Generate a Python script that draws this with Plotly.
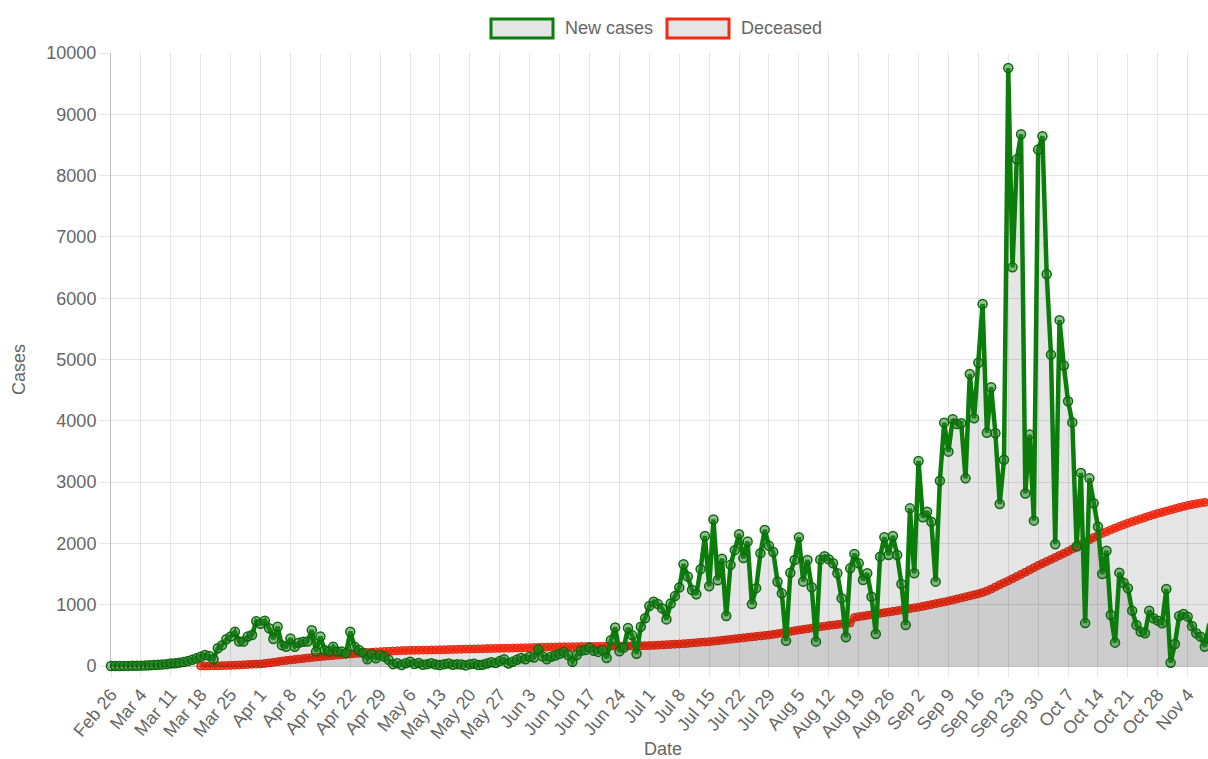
import pandas as pd
import plotly.graph_objects as go

start_date = "2020-02-26"

# Daily new cases, Feb 26 .. Nov 10
new_cases = [
    0, 0, 1, 2, 2, 4, 5, 6, 9, 12, 15, 20, 25, 30, 40, 45, 55, 65, 80, 100, 125, 150, 180, 165, 110,
    290, 340, 435, 480, 560, 400, 400, 480, 505, 730, 690, 740, 615, 440, 640, 340, 315, 450, 315, 380,
    395, 400, 585, 235, 480, 260, 235, 315, 235, 235, 210, 560, 315, 260, 215, 110, 195, 125, 180, 150,
    100, 30, 45, 15, 45, 70,
    33, 50, 20, 30, 45, 25, 15, 30, 40, 20, 30, 25, 10, 30, 35, 15, 20, 40, 60, 50, 80,
    110, 40, 70, 100, 130, 110, 150, 140, 270, 160, 110, 150, 170, 200, 230, 180, 70, 180, 250, 260, 300,
    250, 230, 260, 130, 420, 630, 240, 300, 620, 500, 200, 640, 780, 980, 1050, 1010, 940, 760, 1020, 1140,
    1280, 1660, 1460, 1240, 1170, 1580, 2120, 1300, 2390, 1400, 1750, 815, 1650, 1890, 2150, 1760, 2030,
    1010, 1270, 1840, 2220, 1960, 1860, 1375, 1185, 410, 1520, 1730,
    2100, 1376, 1729, 1284, 397, 1735, 1790, 1740, 1675, 1512, 1104, 468, 1593, 1827, 1675, 1403, 1512,
    1131, 522, 1784, 2099, 1811, 2121, 1811, 1338, 669, 2572, 1512, 3344, 2425, 2518, 2354, 1376, 3023,
    3970, 3497, 4024, 3948, 3959, 3061, 4763, 4040, 4948, 5905, 3806, 4546, 3796, 2643, 3364,
    9755, 6503, 8265, 8675, 2815, 3775, 2371, 8424, 8642, 6391, 5079, 1987, 5642, 4901, 4318, 3974, 1950,
    3150, 700,
    3061, 2654, 2273, 1501, 1881, 832, 381, 1523, 1359, 1267, 903, 669, 560, 533, 903, 778, 740, 696,
    1256, 54, 359, 816, 848, 805, 653, 533, 479, 315, 669, 750,
]

# Cumulative deceased (no data before Mar 18)
deceased = [None] * 21 + [
    1, 1, 2, 3, 4, 6, 8,
    10, 13, 16, 20, 24, 28, 31,
    33, 42, 50, 60, 70, 80, 90,
    98, 106, 114, 122, 130, 138, 145,
    152, 158, 165, 171, 178, 184, 190,
    196, 202, 208, 214, 220, 225, 230,
    234, 238, 241, 244, 248, 251, 253,
    255, 256, 258, 259, 260, 262, 263,
    264, 266, 268, 270, 272, 274, 276,
    277, 279, 280, 282, 284, 285, 287,
    288, 290, 291, 293, 294, 296, 297,
    299, 301, 303, 305, 307, 309, 311,
    312, 313, 314, 315, 316, 317, 317,
    318, 319, 320, 321, 322, 324, 325,
    326, 327, 328, 329, 330, 331, 332,
    333, 336, 340, 344, 348, 352, 356,
    359, 364, 369, 375, 381, 387, 392,
    397, 404, 411, 419, 427, 435, 443,
    451, 459, 467, 475, 483, 491, 498,
    505, 516, 527, 539, 551, 563, 575,
    587, 597, 607, 618, 629, 640, 650,
    660, 668, 676, 684, 692, 700, 790,
    805, 815, 826, 837, 848, 859, 870,
    880, 891, 902, 914, 926, 937, 949,
    960, 974, 988, 1002, 1017, 1031, 1045,
    1060, 1076, 1093, 1110, 1127, 1144, 1161,
    1178, 1200, 1225, 1255, 1290, 1325, 1358,
    1390, 1425, 1460, 1495, 1530, 1568, 1604,
    1640, 1672, 1705, 1738, 1771, 1804, 1837,
    1870, 1908, 1946, 1984, 2022, 2060, 2096,
    2130, 2162, 2192, 2222, 2250, 2278, 2305,
    2330, 2354, 2377, 2400, 2423, 2446, 2468,
    2490, 2508, 2527, 2546, 2565, 2584, 2602,
    2620, 2633, 2646, 2658, 2670, 2682, 2694,
]

series_names = ["New cases", "Deceased"]
y_ticks = list(range(0, 10001, 1000))

dates = pd.date_range(start_date, periods=len(new_cases), freq="D")

# ---- layout geometry (pixels) ----
W, H = 1208, 759
L, T, B, R = 111, 53, 93, 0
PW = W - L - R
PH = H - T - B
PX_PER_DAY = 4.2726


def pxx(x):
    return (x - L) / PW


def pxy(y):
    return (H - B - y) / PH


FONT = "Helvetica Neue, Helvetica, Arial, Liberation Sans, sans-serif"
TXT = "#666666"
GRID = "rgba(0,0,0,0.1)"
AXIS = "rgba(0,0,0,0.25)"
GREEN = "#0b7d0b"
RED = "#f22b12"

fig = go.Figure()

fig.add_trace(go.Scatter(
    x=dates, y=deceased, mode="lines+markers", name=series_names[1],
    line=dict(color=RED, width=3.5),
    marker=dict(size=8, color="rgba(245,45,20,0.75)", line=dict(color="#e3230c", width=1)),
    fill="tozeroy", fillcolor="rgba(0,0,0,0.1)",
    cliponaxis=False, hoverinfo="skip", showlegend=False,
))
fig.add_trace(go.Scatter(
    x=dates, y=new_cases, mode="lines+markers", name=series_names[0],
    line=dict(color=GREEN, width=4.5),
    marker=dict(size=9, color="rgba(40,130,40,0.5)", line=dict(color="#0a6a0a", width=1.5)),
    fill="tozeroy", fillcolor="rgba(0,0,0,0.1)",
    cliponaxis=False, hoverinfo="skip", showlegend=False,
))

x_end = pd.Timestamp(start_date) + pd.Timedelta(days=(W - R - L) / PX_PER_DAY)

fig.update_xaxes(
    type="date",
    range=[pd.Timestamp(start_date), x_end],
    tick0=start_date, dtick=7 * 86400000, tickformat="%b %-d",
    tickangle=-50,
    ticks="outside", ticklen=10, tickcolor=GRID, tickwidth=1,
    showgrid=True, gridcolor=GRID, gridwidth=1,
    showline=True, linecolor=AXIS, linewidth=1,
    zeroline=False,
    tickfont=dict(family=FONT, size=18, color=TXT),
    fixedrange=True,
)
fig.update_yaxes(
    range=[0, 10000], tickvals=y_ticks, tickformat="d",
    ticks="outside", ticklen=10, tickcolor=GRID, tickwidth=1,
    showgrid=True, gridcolor=GRID, gridwidth=1,
    showline=True, linecolor=AXIS, linewidth=1,
    zeroline=False,
    tickfont=dict(family=FONT, size=18, color=TXT),
    fixedrange=True,
)

shapes = []
annotations = []

# custom legend (Chart.js style boxes)
legend_items = [
    (series_names[0], GREEN, 491, 553, 563),
    (series_names[1], RED, 667, 729, 739),
]
for name, col, bx0, bx1, tx in legend_items:
    shapes.append(dict(
        type="rect", xref="paper", yref="paper",
        x0=pxx(bx0), x1=pxx(bx1), y0=pxy(38), y1=pxy(19),
        line=dict(color=col, width=3), fillcolor="rgba(0,0,0,0.1)", layer="above",
    ))
    annotations.append(dict(
        text=name, xref="paper", yref="paper", x=pxx(tx), y=pxy(28.5),
        xanchor="left", yanchor="middle", showarrow=False,
        font=dict(family=FONT, size=18, color=TXT),
    ))

# axis titles
annotations.append(dict(
    text="Cases", xref="paper", yref="paper", x=pxx(19), y=pxy(370),
    xanchor="center", yanchor="middle", textangle=-90, showarrow=False,
    font=dict(family=FONT, size=18, color=TXT),
))
annotations.append(dict(
    text="Date", xref="paper", yref="paper", x=pxx(663), y=pxy(749),
    xanchor="center", yanchor="middle", showarrow=False,
    font=dict(family=FONT, size=18, color=TXT),
))

fig.update_layout(
    width=W, height=H,
    margin=dict(l=L, r=R, t=T, b=B, pad=0),
    paper_bgcolor="white", plot_bgcolor="white",
    showlegend=False,
    shapes=shapes, annotations=annotations,
    font=dict(family=FONT, size=18, color=TXT),
    hovermode=False,
)

fig.write_html(
    "out.html",
    config={"displayModeBar": False, "staticPlot": True},
    post_script="document.body.style.margin='0px';document.body.style.overflow='hidden';",
)
